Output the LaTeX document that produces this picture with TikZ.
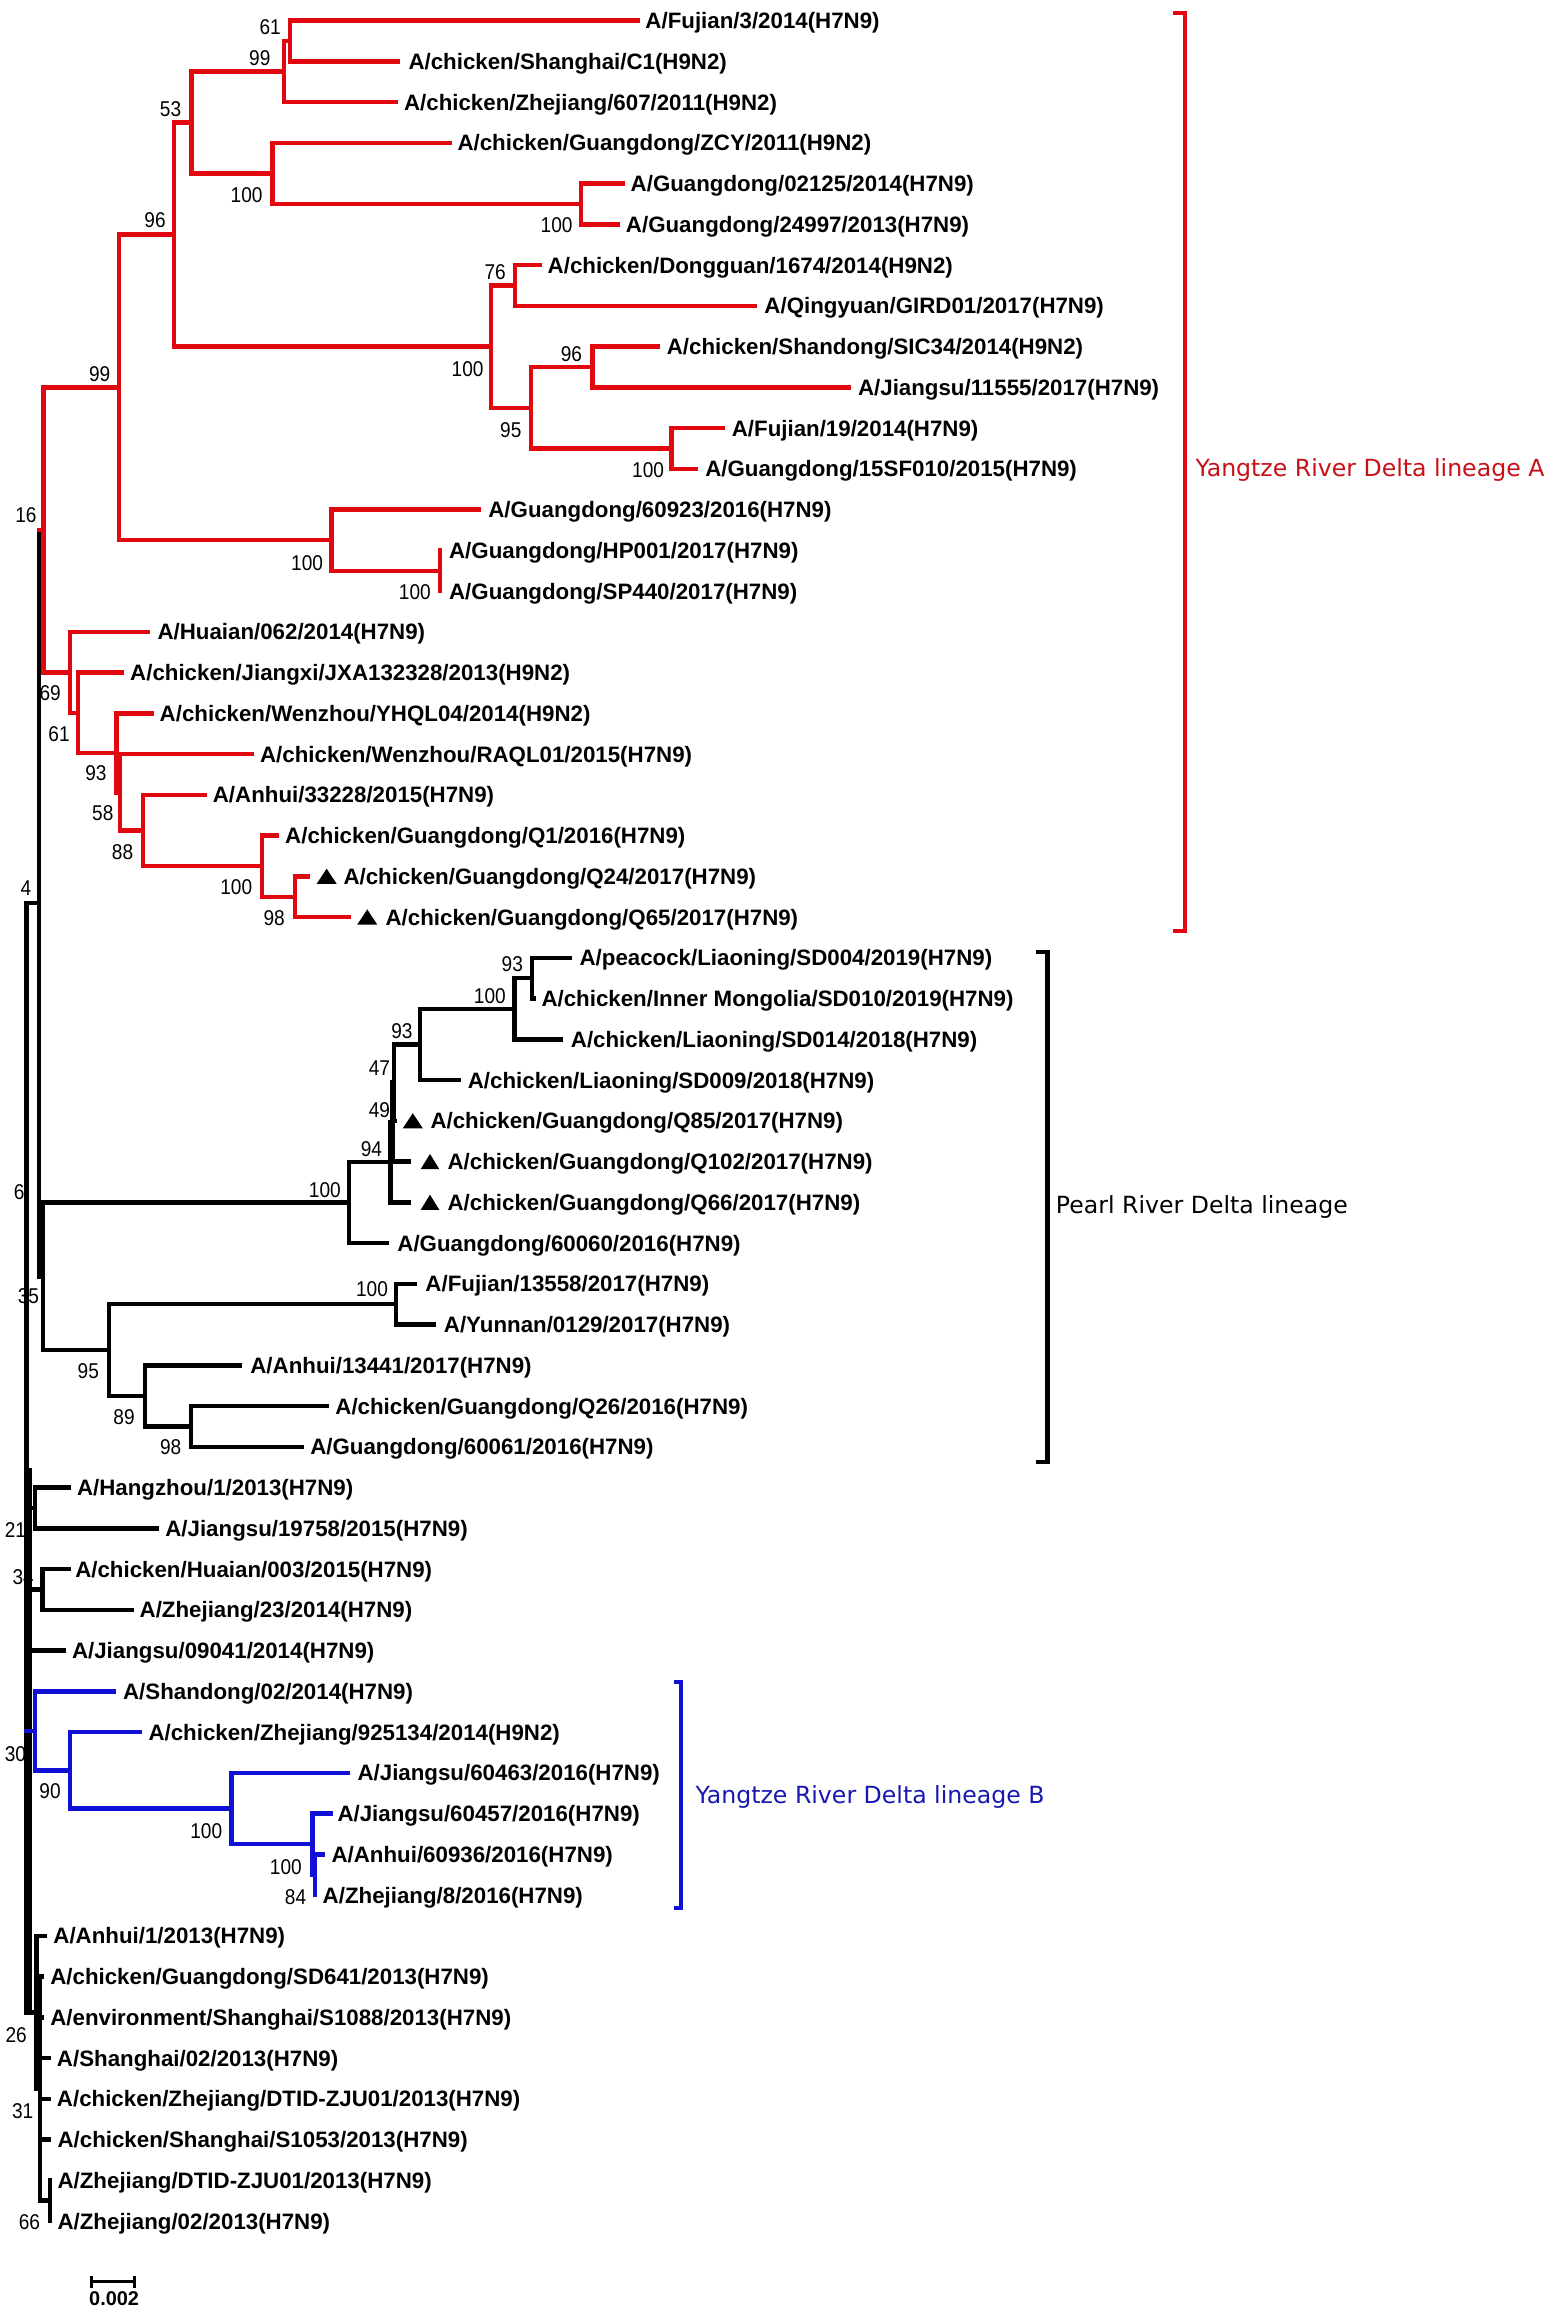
\documentclass[tikz,border=0pt]{standalone}
\usepackage{fontspec}
\newfontfamily\arialfam{Liberation Sans}
\newfontfamily\bsfam{Liberation Sans}[FakeStretch=0.89]
\newfontfamily\dejavufam{DejaVu Sans}
\definecolor{linered}{RGB}{226,8,16}
\definecolor{lineblue}{RGB}{16,16,214}
\definecolor{labred}{RGB}{200,16,24}
\definecolor{labblue}{RGB}{24,24,176}
\tikzset{
  br/.style={line width=3pt, line cap=rect, line join=miter},
  blkbr/.style={br, draw=black},
  redbr/.style={br, draw=linered},
  bluebr/.style={br, draw=lineblue},
  leaf/.style={anchor=base west, inner sep=0pt, font=\arialfam\bfseries\fontsize{15.1}{16}\selectfont},
  bs/.style={anchor=base, inner sep=0pt, font=\bsfam\fontsize{14.5}{15}\selectfont},
  clade/.style={anchor=base west, inner sep=0pt, font=\dejavufam\fontsize{16}{18}\selectfont},
  bracket/.style={line width=2.8pt, line cap=butt, line join=miter},
}
\newcommand\lf[6]{\pgfmathsetmacro\yy{14+27.6*(#2-1)}%
  \coordinate (L#2) at (#4,\yy);
  \draw[#1] (#3) |- (L#2);
  \node[leaf] (T#2) at (#5,\yy+5.4) {#6};}
\newcommand\tri[3]{\pgfmathsetmacro\yy{14+27.6*(#1-1)}%
  \fill[black] (#2,\yy+5) -- (#3,\yy+5) -- ({(#2+#3)/2},\yy-5.2) -- cycle;}
\newcommand\bsv[4]{\node[bs] (#1) at (#2,#3+5.2) {#4};}
\begin{document}
\begin{tikzpicture}[x=1pt,y=-1pt]
\useasboundingbox (0,0) rectangle (1056,1566);
\fill[white] (0,0) rectangle (1056,1566);

% ---------- bootstrap values (drawn first, branches overlap them) ----------
\bsv{b1}{183}{18}{61}
\bsv{b2}{176}{39}{99}
\bsv{b3}{115.5}{73.4}{53}
\bsv{b4}{167}{132}{100}
\bsv{b5}{377}{152.4}{100}
\bsv{b6}{105}{149}{96}
\bsv{b7}{335.4}{184}{76}
\bsv{b8}{316.7}{249.5}{100}
\bsv{b9}{387}{239.4}{96}
\bsv{b10}{346}{291}{95}
\bsv{b11}{439}{318.4}{100}
\bsv{b12}{67.5}{253}{99}
\bsv{b13}{17.6}{349}{16}
\bsv{b14}{208}{381}{100}
\bsv{b15}{281}{401}{100}
\bsv{b16}{34}{469.6}{69}
\bsv{b17}{40}{497}{61}
\bsv{b18}{65}{523.5}{93}
\bsv{b19}{69.6}{550.6}{58}
\bsv{b20}{83}{577}{88}
\bsv{b21}{160}{601}{100}
\bsv{b22}{185.7}{622}{98}
\bsv{b23}{17.6}{601.6}{4}
\bsv{b24}{347}{653}{93}
\bsv{b25}{331.8}{674.6}{100}
\bsv{b26}{272.2}{698}{93}
\bsv{b27}{257}{723.5}{47}
\bsv{b28}{257}{751.4}{49}
\bsv{b29}{251.6}{777.8}{94}
\bsv{b30}{220}{806}{100}
\bsv{b31}{13}{807.4}{6}
\bsv{b32}{19.2}{878}{35}
\bsv{b33}{252}{873}{100}
\bsv{b34}{59.8}{928.6}{95}
\bsv{b35}{84}{959.8}{89}
\bsv{b36}{115.6}{979.7}{98}
\bsv{b37}{10.5}{1036}{21}
\bsv{b38}{15.7}{1068}{34}
\bsv{b39}{10.5}{1188}{30}
\bsv{b40}{33.9}{1213}{90}
\bsv{b41}{139.7}{1239.8}{100}
\bsv{b42}{193.6}{1264.2}{100}
\bsv{b43}{200.2}{1285}{84}
\bsv{b44}{11}{1378}{26}
\bsv{b45}{15.4}{1429.5}{31}
\bsv{b46}{19.9}{1505}{66}

% ---------- internal nodes ----------
\coordinate (root) at (18,987.4);
\coordinate (s1) at (20,996);
\coordinate (n16) at (26.6,611.7);
% lineage A
\coordinate (nA) at (29.4,358.9);
\coordinate (n99) at (80.5,262.4);
\coordinate (n96) at (117.7,158.9);
\coordinate (n53) at (129.7,83);
\coordinate (n99a) at (192.5,48.5);
\coordinate (n61a) at (196.3,27.8);
\coordinate (n100a) at (184.5,117.5);
\coordinate (n100b) at (393.6,138.2);
\coordinate (n100c) at (332.4,234.8);
\coordinate (n76) at (349,193.4);
\coordinate (n95) at (359.6,276.2);
\coordinate (n96b) at (401.4,248.6);
\coordinate (n100d) at (454.9,303.8);
\coordinate (n100e) at (224.6,365.9);
\coordinate (nHP) at (298,386.6);
\coordinate (n69) at (47.4,455.4);
\coordinate (n61) at (53,482.8);
\coordinate (n93) at (79,510);
\coordinate (n58) at (81.3,536.7);
\coordinate (n88) at (97,562.6);
\coordinate (n100f) at (177.3,586.7);
\coordinate (n98) at (200,607.4);
% Pearl River Delta
\coordinate (nP) at (29,864.5);
\coordinate (n100q) at (236.5,814.6);
\coordinate (n94) at (264.6,787.2);
\coordinate (n49) at (265.8,760.1);
\coordinate (n47) at (267,733.3);
\coordinate (n93q) at (284.3,707.5);
\coordinate (n100p) at (348.4,683.3);
\coordinate (n93p) at (360.4,662.6);
\coordinate (n95p) at (74,914.5);
\coordinate (n100r) at (268.3,883.4);
\coordinate (n89) at (98.2,945.5);
\coordinate (n98p) at (129.4,966.2);
% spine clades
\coordinate (n21) at (23.7,1021.4);
\coordinate (n34) at (28.9,1076.6);
\coordinate (nB) at (23.6,1172.4);
\coordinate (n90) at (47.5,1199.1);
\coordinate (n100B) at (156.7,1225);
\coordinate (n100C) at (211.7,1249.1);
\coordinate (n84) at (213.2,1269.8);
\coordinate (n26) at (24.8,1363);
\coordinate (n31) at (27,1414.7);
\coordinate (n66) at (33.9,1490.6);

% ---------- internal branches ----------
\draw[blkbr] (root) |- (n16);
\draw[blkbr] (root) |- (n26);
\draw[blkbr] (s1) -- (s1 |- n26);
\draw[blkbr] (root) |- (n21);
\draw[blkbr] (root) |- (n34);
\draw[blkbr] (root) |- (nB);
\draw[blkbr] (n16) |- (nA);
\draw[blkbr] (n16) |- (nP);
% lineage A (red)
\draw[redbr] (nA -| n16) -- (nA);
\draw[redbr] (nA) |- (n99);
\draw[redbr] (nA) |- (n69);
\draw[redbr] (n99) |- (n96);
\draw[redbr] (n99) |- (n100e);
\draw[redbr] (n96) |- (n53);
\draw[redbr] (n96) |- (n100c);
\draw[redbr] (n53) |- (n99a);
\draw[redbr] (n53) |- (n100a);
\draw[redbr] (n99a) |- (n61a);
\draw[redbr] (n100a) |- (n100b);
\draw[redbr] (n100c) |- (n76);
\draw[redbr] (n100c) |- (n95);
\draw[redbr] (n95) |- (n96b);
\draw[redbr] (n95) |- (n100d);
\draw[redbr] (n100e) |- (nHP);
\draw[redbr] (n69) |- (n61);
\draw[redbr] (n61) |- (n93);
\draw[redbr] (n93) |- (n58);
\draw[redbr] (n58) |- (n88);
\draw[redbr] (n88) |- (n100f);
\draw[redbr] (n100f) |- (n98);
% Pearl River Delta (black)
\draw[blkbr] (nP) |- (n100q);
\draw[blkbr] (nP) |- (n95p);
\draw[blkbr] (n100q) |- (n94);
\draw[blkbr] (n94) |- (n49);
\draw[blkbr] (n49) |- (n47);
\draw[blkbr] (n47) |- (n93q);
\draw[blkbr] (n93q) |- (n100p);
\draw[blkbr] (n100p) |- (n93p);
\draw[blkbr] (n95p) |- (n100r);
\draw[blkbr] (n95p) |- (n89);
\draw[blkbr] (n89) |- (n98p);
% lineage B (blue)
\draw[bluebr] (nB -| root) -- (nB);
\draw[bluebr] (nB) |- (n90);
\draw[bluebr] (n90) |- (n100B);
\draw[bluebr] (n100B) |- (n100C);
\draw[bluebr] (n100C) |- (n84);
% 2013 clade
\draw[blkbr] (n26) |- (n31);
\draw[blkbr] (n31) |- (n66);

% ---------- leaves ----------
\lf{redbr}{1}{n61a}{432}{437}{A/Fujian/3/2014(H7N9)}
\lf{redbr}{2}{n61a}{269.6}{276.5}{A/chicken/Shanghai/C1(H9N2)}
\lf{redbr}{3}{n99a}{268}{273.5}{A/chicken/Zhejiang/607/2011(H9N2)}
\lf{redbr}{4}{n100a}{304.6}{309.7}{A/chicken/Guangdong/ZCY/2011(H9N2)}
\lf{redbr}{5}{n100b}{421.5}{427}{A/Guangdong/02125/2014(H7N9)}
\lf{redbr}{6}{n100b}{418.6}{423.8}{A/Guangdong/24997/2013(H7N9)}
\lf{redbr}{7}{n76}{365.6}{370.8}{A/chicken/Dongguan/1674/2014(H9N2)}
\lf{redbr}{8}{n76}{511.5}{517.6}{A/Qingyuan/GIRD01/2017(H7N9)}
\lf{redbr}{9}{n96b}{445.8}{451.5}{A/chicken/Shandong/SIC34/2014(H9N2)}
\lf{redbr}{10}{n96b}{575}{581}{A/Jiangsu/11555/2017(H7N9)}
\lf{redbr}{11}{n100d}{489.7}{495.5}{A/Fujian/19/2014(H7N9)}
\lf{redbr}{12}{n100d}{471.6}{477.5}{A/Guangdong/15SF010/2015(H7N9)}
\lf{redbr}{13}{n100e}{324}{330.6}{A/Guangdong/60923/2016(H7N9)}
\lf{redbr}{14}{nHP}{298}{304}{A/Guangdong/HP001/2017(H7N9)}
\lf{redbr}{15}{nHP}{298}{304}{A/Guangdong/SP440/2017(H7N9)}
\lf{redbr}{16}{n69}{100}{106.5}{A/Huaian/062/2014(H7N9)}
\lf{redbr}{17}{n61}{82.4}{88}{A/chicken/Jiangxi/JXA132328/2013(H9N2)}
\lf{redbr}{18}{n93}{102.8}{108}{A/chicken/Wenzhou/YHQL04/2014(H9N2)}
\lf{redbr}{19}{n58}{170.5}{176}{A/chicken/Wenzhou/RAQL01/2015(H7N9)}
\lf{redbr}{20}{n88}{139}{144}{A/Anhui/33228/2015(H7N9)}
\lf{redbr}{21}{n100f}{187.5}{193}{A/chicken/Guangdong/Q1/2016(H7N9)}
\lf{redbr}{22}{n98}{208.5}{232.5}{A/chicken/Guangdong/Q24/2017(H7N9)}
\lf{redbr}{23}{n98}{236}{261}{A/chicken/Guangdong/Q65/2017(H7N9)}
\lf{blkbr}{24}{n93p}{386}{392.4}{A/peacock/Liaoning/SD004/2019(H7N9)}
\lf{blkbr}{25}{n93p}{361.5}{366.6}{A/chicken/Inner Mongolia/SD010/2019(H7N9)}
\lf{blkbr}{26}{n100p}{380}{386.5}{A/chicken/Liaoning/SD014/2018(H7N9)}
\lf{blkbr}{27}{n93q}{310.6}{316.7}{A/chicken/Liaoning/SD009/2018(H7N9)}
\lf{blkbr}{28}{n47}{267.5}{291.4}{A/chicken/Guangdong/Q85/2017(H7N9)}
\lf{blkbr}{29}{n49}{277}{303}{A/chicken/Guangdong/Q102/2017(H7N9)}
\lf{blkbr}{30}{n94}{277}{303}{A/chicken/Guangdong/Q66/2017(H7N9)}
\lf{blkbr}{31}{n100q}{262}{269}{A/Guangdong/60060/2016(H7N9)}
\lf{blkbr}{32}{n100r}{281}{288}{A/Fujian/13558/2017(H7N9)}
\lf{blkbr}{33}{n100r}{294}{300.5}{A/Yunnan/0129/2017(H7N9)}
\lf{blkbr}{34}{n89}{162.6}{169.4}{A/Anhui/13441/2017(H7N9)}
\lf{blkbr}{35}{n98p}{221.3}{227}{A/chicken/Guangdong/Q26/2016(H7N9)}
\lf{blkbr}{36}{n98p}{204.4}{210}{A/Guangdong/60061/2016(H7N9)}
\lf{blkbr}{37}{n21}{46.3}{52}{A/Hangzhou/1/2013(H7N9)}
\lf{blkbr}{38}{n21}{106}{111.8}{A/Jiangsu/19758/2015(H7N9)}
\lf{blkbr}{39}{n34}{46.3}{50.8}{A/chicken/Huaian/003/2015(H7N9)}
\lf{blkbr}{40}{n34}{89.2}{94.4}{A/Zhejiang/23/2014(H7N9)}
\lf{blkbr}{41}{root}{42.9}{48.6}{A/Jiangsu/09041/2014(H7N9)}
\lf{bluebr}{42}{nB}{77.1}{83.2}{A/Shandong/02/2014(H7N9)}
\lf{bluebr}{43}{n90}{94.4}{100.4}{A/chicken/Zhejiang/925134/2014(H9N2)}
\lf{bluebr}{44}{n100B}{235.9}{242}{A/Jiangsu/60463/2016(H7N9)}
\lf{bluebr}{45}{n100C}{223.8}{228.4}{A/Jiangsu/60457/2016(H7N9)}
\lf{bluebr}{46}{n84}{218.4}{224.4}{A/Anhui/60936/2016(H7N9)}
\lf{bluebr}{47}{n84}{213.2}{218.4}{A/Zhejiang/8/2016(H7N9)}
\lf{blkbr}{48}{n26}{30.5}{36}{A/Anhui/1/2013(H7N9)}
\lf{blkbr}{49}{n31}{28.5}{33.9}{A/chicken/Guangdong/SD641/2013(H7N9)}
\lf{blkbr}{50}{n31}{28.5}{33.9}{A/environment/Shanghai/S1088/2013(H7N9)}
\lf{blkbr}{51}{n31}{33}{38.4}{A/Shanghai/02/2013(H7N9)}
\lf{blkbr}{52}{n31}{33}{38.4}{A/chicken/Zhejiang/DTID-ZJU01/2013(H7N9)}
\lf{blkbr}{53}{n31}{33}{38.8}{A/chicken/Shanghai/S1053/2013(H7N9)}
\lf{blkbr}{54}{n66}{33.9}{38.8}{A/Zhejiang/DTID-ZJU01/2013(H7N9)}
\lf{blkbr}{55}{n66}{33.9}{38.8}{A/Zhejiang/02/2013(H7N9)}

% ---------- triangles ----------
\tri{22}{214.5}{228}
\tri{23}{242}{255.5}
\tri{28}{272.8}{286.4}
\tri{29}{285}{297.5}
\tri{30}{285}{297.5}

% ---------- clade brackets ----------
\coordinate (ra) at (794.5,8.6);
\coordinate (rb) at (794.5,630.5);
\draw[bracket, draw=linered] (ra) -- (ra -| 802.8,0) -- (rb -| 802.8,0) -- (rb);
\node[clade, text=labred] (cA) at (809.6,322.8) {Yangtze River Delta lineage A};
\coordinate (pa) at (702,645);
\coordinate (pb) at (702,990);
\draw[bracket, draw=black] (pa) -- (pa -| 709.5,0) -- (pb -| 709.5,0) -- (pb);
\node[clade, text=black] (cP) at (715,821.8) {Pearl River Delta lineage};
\coordinate (ba) at (456.7,1139.5);
\coordinate (bb) at (456.7,1292.5);
\draw[bracket, draw=lineblue] (ba) -- (ba -| 461.3,0) -- (bb -| 461.3,0) -- (bb);
\node[clade, text=labblue] (cB) at (471,1221.8) {Yangtze River Delta lineage B};

% ---------- scale bar ----------
\coordinate (sa) at (62,1545.4);
\coordinate (sb) at (91,1545.4);
\draw[line width=1.9pt] (sa) -- (sb);
\draw[line width=1.9pt] ([yshift=4pt]sa) -- ([yshift=-4pt]sa);
\draw[line width=1.9pt] ([yshift=4pt]sb) -- ([yshift=-4pt]sb);
\node[anchor=base, inner sep=0pt, font=\arialfam\bfseries\fontsize{13.5}{14}\selectfont] (sl) at (77.3,1561.8) {0.002};
\end{tikzpicture}
\end{document}
